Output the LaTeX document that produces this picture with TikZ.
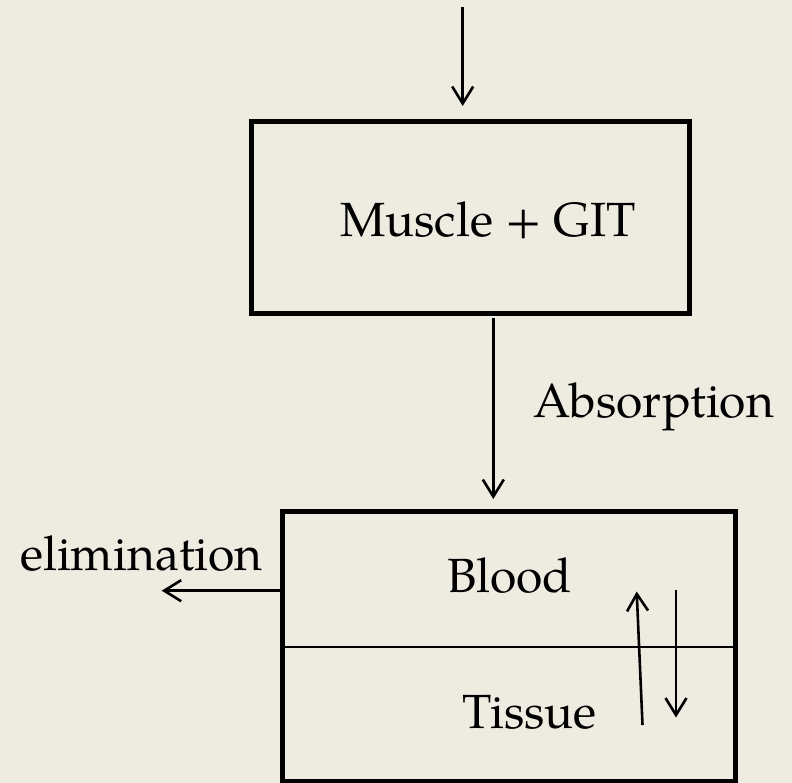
\documentclass[tikz,border=0pt]{standalone}
\usepackage{fontspec}
\setmainfont{TeX Gyre Pagella}
\usetikzlibrary{arrows.meta}
\definecolor{paper}{HTML}{EEECE1}
\tikzset{
  boxshape/.style={draw=black, line width=5pt, rectangle, inner sep=0pt},
  lbl/.style={anchor=base west, inner sep=0pt, font=\fontsize{48}{58}\selectfont},
  arr/.style={line width=2.6pt, -{Straight Barb[length=17pt, width=21pt, line width=2.6pt]}},
  divider/.style={line width=2pt}
}
\begin{document}
\begin{tikzpicture}[x=1pt, y=-1pt]
  \useasboundingbox (0,0) rectangle (792,783);
  \fill[paper] (0,0) rectangle (792,783);

  % boxes
  \node[boxshape, minimum width=438pt, minimum height=192pt] (muscle) at (470.5,217.5) {};
  \node[boxshape, minimum width=453pt, minimum height=270pt] (blood) at (508.5,646.5) {};

  % labels
  \node[lbl] (mtext) at (340,237) {Muscle + GIT};
  \node[lbl] (abs) at (533,417) {Absorption};
  \node[lbl] (elim) at (20,570) {elimination};
  \node[lbl] (btext) at (447,592) {Blood};
  \node[lbl] (ttext) at (462,728) {Tissue};

  % divider
  \coordinate (divL) at (282,646.7);
  \coordinate (divR) at (735,646.7);
  \draw[divider] (divL) -- (divR);

  % connectors
  \coordinate (src) at (462.7,7);
  \coordinate (srcend) at (462.7,106);
  \draw[arr] (src) -- (srcend);

  \coordinate (absA) at (493.3,318);
  \coordinate (absB) at (493.3,499);
  \draw[arr] (absA) -- (absB);

  \coordinate (elimA) at (282,590.7);
  \coordinate (elimB) at (161.7,590.7);
  \draw[arr] (elimA) -- (elimB);

  \coordinate (upA) at (642.5,725);
  \coordinate (upB) at (636.7,591.5);
  \draw[arr] (upA) -- (upB);

  \coordinate (dnA) at (676,590);
  \coordinate (dnB) at (676,717.5);
  \draw[arr] (dnA) -- (dnB);
\end{tikzpicture}
\end{document}
